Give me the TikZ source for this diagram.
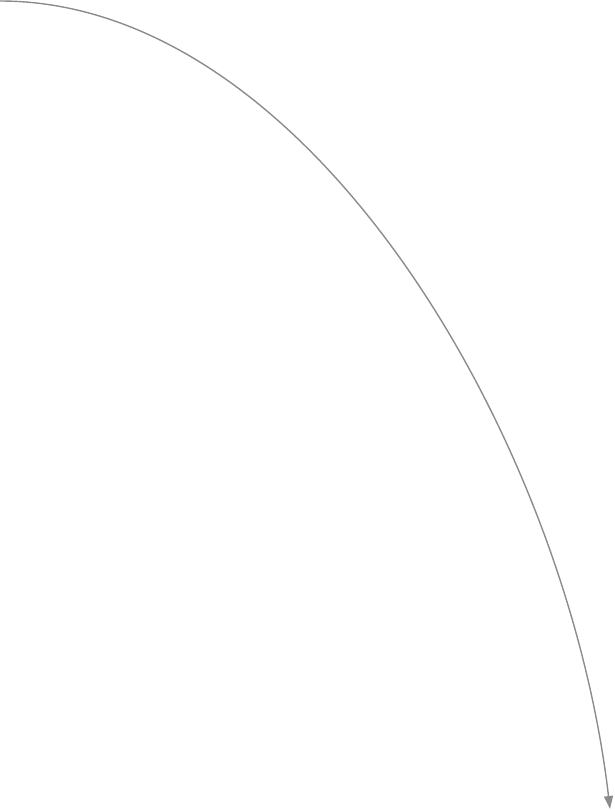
\documentclass[tikz,border=0pt]{standalone}
\usepackage{tikz}
\usetikzlibrary{arrows.meta}

\begin{document}
\begin{tikzpicture}[
  x=1pt, y=-1pt,
  link/.style = {draw=gray!90, line width=1.4pt, -{Triangle[width=9pt, length=13pt]}}
]
  \useasboundingbox (0,0) rectangle (614,811);

  % end points of the arc
  \coordinate (src) at (0,1);
  \coordinate (dst) at (610,809);

  % the long arc down to the right
  \draw[link] (src) .. controls (310,1) and (567,440) .. (dst);

\end{tikzpicture}
\end{document}
